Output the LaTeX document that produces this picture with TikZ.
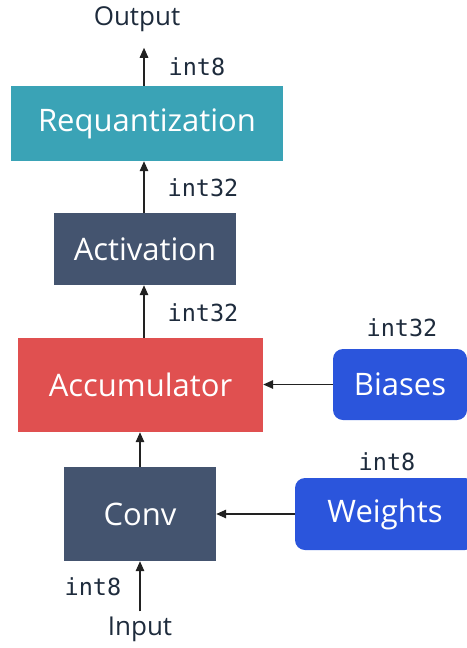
\documentclass[tikz,border=0pt]{standalone}
\usepackage{fontspec}
\setmainfont{Open Sans}
\newfontfamily\codefont{DejaVu Sans Mono}
\usetikzlibrary{arrows.meta}

\definecolor{tealbox}{HTML}{3AA3B6}
\definecolor{slatebox}{HTML}{44546F}
\definecolor{redbox}{HTML}{E05050}
\definecolor{bluebox}{HTML}{2B55DC}
\definecolor{inkdark}{HTML}{1E2B3C}
\definecolor{arrowink}{HTML}{222222}

\tikzset{
  stage/.style={rectangle, inner sep=0pt, text=white,
    font=\fontsize{31}{36}\selectfont},
  source/.style={stage, rounded corners=10pt, fill=bluebox},
  dtype/.style={inner sep=0pt, text=inkdark, font=\codefont\fontsize{23.5}{27}\selectfont},
  term/.style={inner sep=0pt, text=inkdark, font=\fontsize{26}{30}\selectfont},
  flow/.style={draw=arrowink, line width=1.4pt,
    -{Triangle[length=10pt,width=8.5pt]}},
}

\begin{document}
\begin{tikzpicture}[x=1pt,y=-1pt]
\useasboundingbox (0,0) rectangle (466,648);

% columns of the vertical flow
\coordinate (upper) at (144,0);
\coordinate (lower) at (140,0);

% processing stages
\node[stage, fill=tealbox, minimum width=272pt, minimum height=75pt] (req) at (147,123.5) {Requantization};
\node[stage, fill=slatebox, minimum width=182pt, minimum height=72pt] (act) at (145,249) {Activation};
\node[stage, fill=redbox, minimum width=245pt, minimum height=94pt] (acc) at (140.5,385) {Accumulator};
\node[stage, fill=slatebox, minimum width=152pt, minimum height=94pt] (conv) at (140,514) {Conv};

% parameter sources
\node[source, minimum width=134pt, minimum height=71pt] (bias) at (400,384.5) {Biases};
\node[source, minimum width=180pt, minimum height=72pt] (wts) at (385,514) {Weights};

% terminals
\node[term] (out) at (137,19) {Output};
\node[term] (in) at (140,629) {Input};

% data types
\node[dtype] (t1) at (197,67) {int8};
\node[dtype] (t2) at (203,188) {int32};
\node[dtype] (t3) at (203,313) {int32};
\node[dtype] (t4) at (402,328) {int32};
\node[dtype] (t5) at (387,462) {int8};
\node[dtype] (t6) at (93,587) {int8};

% connectors
\draw[flow, shorten >=16pt] (req.north -| upper) -- (out.south -| upper);
\draw[flow] (act.north -| upper) -- (req.south -| upper);
\draw[flow] (acc.north -| upper) -- (act.south -| upper);
\draw[flow] (conv.north -| lower) -- (acc.south -| lower);
\draw[flow, shorten <=5pt] (in.north) -- (conv.south -| in.north);
\draw[flow] (bias.west) -- (acc.east |- bias.west);
\draw[flow] (wts.west) -- (conv.east |- wts.west);
\end{tikzpicture}
\end{document}
